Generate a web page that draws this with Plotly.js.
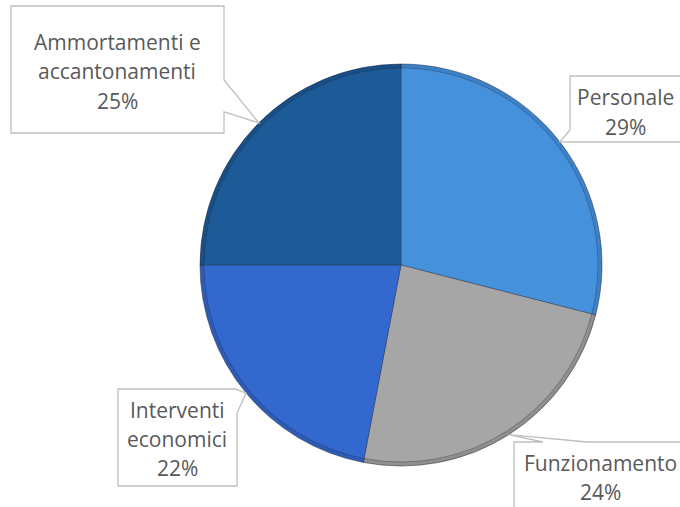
<!DOCTYPE html>
<html>
<head>
<meta charset="utf-8">
<script src="https://cdn.plot.ly/plotly-3.0.1.min.js"></script>
<style>html,body{margin:0;padding:0;background:#fff}#chart{width:680px;height:507px}</style>
</head>
<body>
<div id="chart"></div>
<script>
const categories = ["Personale", "Funzionamento", "Interventi economici", "Ammortamenti e accantonamenti"];
const labelLines = [["Personale"], ["Funzionamento"], ["Interventi", "economici"], ["Ammortamenti e", "accantonamenti"]];
const values = [29, 24, 22, 25];
const sliceColors = ["#4591dc", "#a6a6a6", "#3369cf", "#1c5b98"];
const edgeColors = ["#3c82c8", "#8f8f8f", "#2c5cb8", "#184f86"];

const W = 680, H = 507;
const cx = 401, cy = 265, R = 201;
const px = x => x / W;
const py = y => 1 - y / H;

const total = values.reduce((a, b) => a + b, 0);
let acc = 0;
const tips = values.map(v => {
  const mid = (acc + v / 2) / total * 2 * Math.PI;
  acc += v;
  return [cx + R * Math.sin(mid), cy - R * Math.cos(mid)];
});

const boxes = [
  t => [[570, 76], [690, 76], [690, 142], [570, 142], t, [570, 130]],
  t => [[514, 442], [543, 442], t, [587, 442], [690, 442], [690, 515], [514, 515]],
  t => [[118, 389], [235, 389], t, [237, 413], [237, 486], [118, 486]],
  t => [[11, 6], [224, 6], [224, 80], t, [224, 112], [224, 133], [11, 133]]
];
const textPos = [[625, 112], [600, 477], [177, 439], [117, 71.5]];
const lineGap = 29;

const shapes = boxes.map((f, i) => {
  const pts = f(tips[i]);
  const d = pts.map((p, k) => (k ? "L" : "M") + px(p[0]).toFixed(5) + "," + py(p[1]).toFixed(5)).join(" ") + " Z";
  return {type: "path", xref: "paper", yref: "paper", path: d,
          fillcolor: "#ffffff", line: {color: "#bfbfbf", width: 1.3}, layer: "above"};
});

const annotations = [];
labelLines.forEach((lines, i) => {
  const all = lines.concat([Math.round(values[i] / total * 100) + "%"]);
  const n = all.length;
  all.forEach((t, k) => {
    annotations.push({
      xref: "paper", yref: "paper", x: px(textPos[i][0]),
      y: py(textPos[i][1] + (k - (n - 1) / 2) * lineGap),
      xanchor: "center", yanchor: "middle", showarrow: false, text: t,
      font: {family: "Open Sans, sans-serif", size: 21, color: "#595959"}
    });
  });
});

const inset = 4;
const data = [
  {type: "pie", labels: categories, values: values, sort: false, direction: "clockwise",
   rotation: 0, textinfo: "none", hoverinfo: "none",
   domain: {x: [px(cx - R), px(cx + R)], y: [py(cy + R), py(cy - R)]},
   marker: {colors: edgeColors, line: {color: "rgba(40,40,60,0.5)", width: 1}}, showlegend: false},
  {type: "pie", labels: categories, values: values, sort: false, direction: "clockwise",
   rotation: 0, textinfo: "none", hoverinfo: "none",
   domain: {x: [px(cx - R + inset), px(cx + R - inset)], y: [py(cy + R - inset), py(cy - R + inset)]},
   marker: {colors: sliceColors, line: {color: "rgba(40,40,60,0.35)", width: 1}}, showlegend: false}
];

const layout = {
  width: W, height: H, margin: {l: 0, r: 0, t: 0, b: 0},
  paper_bgcolor: "#ffffff", plot_bgcolor: "#ffffff",
  showlegend: false, shapes: shapes, annotations: annotations
};

Plotly.newPlot("chart", data, layout, {staticPlot: true, displayModeBar: false});
</script>
</body>
</html>
